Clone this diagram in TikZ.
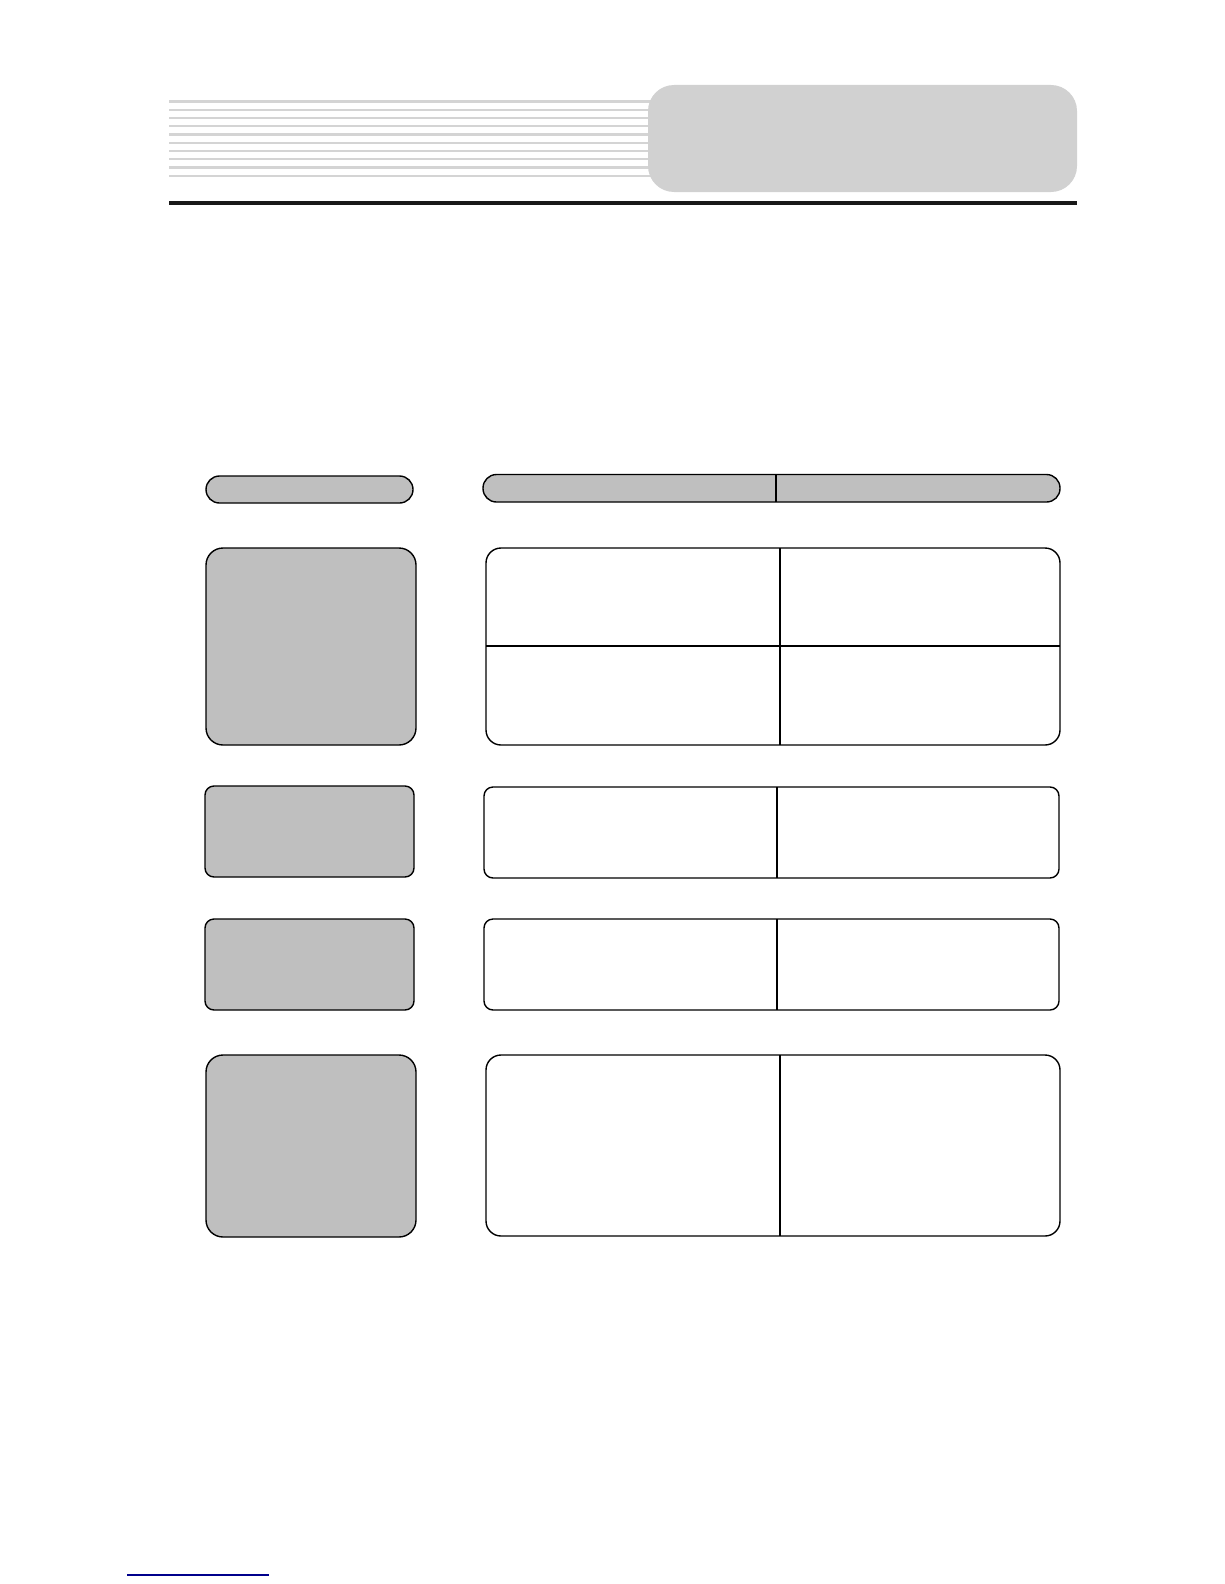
\documentclass[tikz,border=0pt]{standalone}
\begin{document}
\begin{tikzpicture}[x=1pt,y=-1pt,
  stripe/.style={line width=2.2pt,draw=black!17},
  cell/.style={draw=black,line width=1.4pt},
  grayfill/.style={cell,fill=black!25},
  divline/.style={draw=black,line width=1.2pt}]
\useasboundingbox[fill=white] (0,0) rectangle (1224,1584);
% header stripes
\foreach \i in {0,...,9}{
  \draw[stripe] (169,{101.5+8.25*\i}) -- (660,{101.5+8.25*\i});
}
\fill[black!18,rounded corners=26pt] (648,85) rectangle (1077,192);
\draw[line width=3.5pt,black!90] (169,203) -- (1077,203);
% header pills
\draw[grayfill,rounded corners=13.5pt] (206,476) rectangle (413,503);
\draw[grayfill,rounded corners=13.5pt] (483,474.5) rectangle (1060,502);
\draw[divline] (776,474.5) -- (776,502);
% row 1
\draw[grayfill,rounded corners=17pt] (206,548) rectangle (416,745);
\draw[cell,rounded corners=15pt] (486,548) rectangle (1060,745);
\draw[divline] (780,548) -- (780,745);
\draw[divline] (486,646) -- (1060,646);
% row 2
\draw[grayfill,rounded corners=9pt] (205,786) rectangle (414,877);
\draw[cell,rounded corners=9pt] (484,787) rectangle (1059,878);
\draw[divline,line width=1.8pt] (777,787) -- (777,878);
% row 3
\draw[grayfill,rounded corners=9pt] (205,919) rectangle (414,1010);
\draw[cell,rounded corners=9pt] (484,919) rectangle (1059,1010);
\draw[divline,line width=1.8pt] (777,919) -- (777,1010);
% row 4
\draw[grayfill,rounded corners=17pt] (206,1055) rectangle (416,1237);
\draw[cell,rounded corners=15pt] (486,1055) rectangle (1060,1236);
\draw[divline] (780,1055) -- (780,1236);
% footer link line
\draw[line width=1.3pt,blue!55!black] (127,1575) -- (269,1575);
\end{tikzpicture}
\end{document}
